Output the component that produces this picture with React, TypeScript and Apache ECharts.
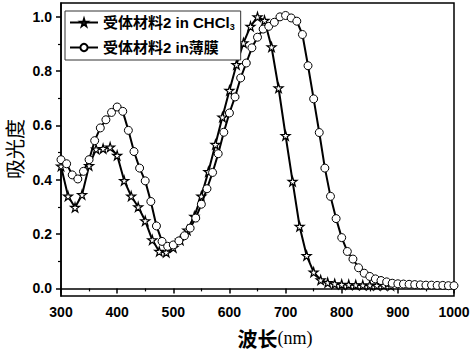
import React, { useEffect, useRef } from "react";
import * as echarts from "echarts";

const starName = "受体材料2 in CHCl3";
const circleName = "受体材料2 in薄膜";

const starWavelengths = [
  300, 312.5, 325, 337.5, 350, 362.5, 375, 387.5, 400, 412.5, 425, 437.5, 450, 462.5, 475, 487.5,
  500, 512.5, 525, 537.5, 550, 562.5, 575, 587.5, 600, 612.5, 625, 637.5, 650, 662.5, 675, 687.5,
  700, 712.5, 725, 737.5, 750, 762.5, 775, 787.5, 800, 812.5, 825, 837.5, 850, 862.5, 875, 887.5,
];
const starValues = [
  0.45, 0.34, 0.298, 0.345, 0.452, 0.513, 0.515, 0.52, 0.49, 0.397, 0.34, 0.3, 0.249, 0.179, 0.136, 0.133,
  0.15, 0.178, 0.215, 0.265, 0.34, 0.43, 0.53, 0.631, 0.729, 0.824, 0.904, 0.965, 1.0, 0.987, 0.889, 0.738,
  0.563, 0.394, 0.228, 0.121, 0.06, 0.031, 0.021, 0.017, 0.015, 0.014, 0.013, 0.012, 0.012, 0.011, 0.011, 0.01,
];

const circleWavelengths = [
  300, 310, 320, 330, 340, 350, 360, 370, 380, 390, 400, 410, 420, 430, 440, 450, 460, 470, 480, 490,
  500, 510, 520, 530, 540, 550, 560, 570, 580, 590, 600, 610, 620, 630, 640, 650, 660, 670, 680, 690,
  700, 710, 720, 730, 740, 750, 760, 770, 780, 790, 800, 810, 820, 830, 840, 850, 860, 870, 880, 890,
  900, 910, 920, 930, 940, 950, 960, 970, 980, 990, 1000,
];
const circleValues = [
  0.474, 0.459, 0.418, 0.403, 0.431, 0.474, 0.544, 0.591, 0.621, 0.648, 0.668, 0.652, 0.582, 0.504, 0.443, 0.396, 0.32, 0.23, 0.173, 0.155,
  0.16, 0.175, 0.194, 0.222, 0.259, 0.31, 0.367, 0.427, 0.496, 0.575, 0.646, 0.705, 0.775, 0.83, 0.886, 0.925, 0.955, 0.965, 0.98, 1.0,
  1.005, 0.996, 0.984, 0.935, 0.82, 0.698, 0.574, 0.443, 0.339, 0.257, 0.187, 0.136, 0.108, 0.076, 0.056, 0.044, 0.035, 0.029, 0.024, 0.019,
  0.017, 0.016, 0.015, 0.014, 0.013, 0.012, 0.012, 0.011, 0.011, 0.01, 0.01,
];

const yMajorTicks = [0, 0.2, 0.4, 0.6, 0.8, 1.0];
const yMinorTicks = [0.1, 0.3, 0.5, 0.7, 0.9];

const starPath =
  "path://M50,0 L61,35 L98,35 L68,57 L79,91 L50,70 L21,91 L32,57 L2,35 L39,35 Z";

const sansFont = "'Liberation Sans', Arial, 'Noto Sans CJK SC', sans-serif";
const cjkFont = "'Noto Sans CJK SC', 'Liberation Sans', sans-serif";

export default function App() {
  const ref = useRef<HTMLDivElement>(null);

  useEffect(() => {
    if (!ref.current) return;
    const chart = echarts.init(ref.current, undefined, { renderer: "svg" });
    const yMin = -0.028;
    const yMax = 1.051;
    chart.setOption({
      animation: false,
      backgroundColor: "#fff",
      grid: {
        left: 61,
        right: 20,
        top: 3,
        bottom: 57,
        show: true,
        borderColor: "#000",
        borderWidth: 1.5,
      },
      legend: {
        left: 65,
        top: 11,
        orient: "vertical",
        itemWidth: 28,
        itemHeight: 9,
        itemGap: 9,
        padding: [4, 6, 5, 4],
        borderColor: "#333",
        borderWidth: 1,
        backgroundColor: "#fff",
        data: [starName, circleName],
        formatter: (name: string) =>
          name === starName ? "{a|受体材料2 in CHCl}{s|3}" : "{a|受体材料2 in薄膜}",
        textStyle: {
          rich: {
            a: { fontSize: 15, fontWeight: "bold", fontFamily: sansFont, color: "#000", lineHeight: 17 },
            s: { fontSize: 9, fontWeight: "bold", fontFamily: sansFont, color: "#000", padding: [8, 0, 0, 0] },
          },
        },
      },
      xAxis: {
        type: "value",
        min: 300,
        max: 1000,
        interval: 100,
        axisLine: { show: true, lineStyle: { color: "#000", width: 1.5 } },
        axisTick: { show: true, inside: false, length: 5, lineStyle: { color: "#000", width: 1.5 } },
        minorTick: { show: true, splitNumber: 2, length: 3, lineStyle: { color: "#000", width: 1.2 } },
        splitLine: { show: false },
        axisLabel: {
          margin: 9,
          color: "#000",
          fontSize: 14,
          fontWeight: "bold",
          fontFamily: sansFont,
          showMaxLabel: true,
          showMinLabel: true,
          formatter: (v: number) => String(v),
        },
      },
      yAxis: [
        {
          type: "value",
          min: yMin,
          max: yMax,
          axisLine: { show: true, lineStyle: { color: "#000", width: 1.5 } },
          axisTick: {
            show: true,
            inside: false,
            length: 5,
            customValues: yMajorTicks,
            lineStyle: { color: "#000", width: 1.5 },
          },
          splitLine: { show: false },
          axisLabel: {
            margin: 9,
            color: "#000",
            fontSize: 14,
            fontWeight: "bold",
            fontFamily: sansFont,
            customValues: yMajorTicks,
            formatter: (v: number) => v.toFixed(1),
          },
        },
        {
          type: "value",
          min: yMin,
          max: yMax,
          position: "left",
          axisLine: { show: false },
          axisTick: {
            show: true,
            inside: false,
            length: 3,
            customValues: yMinorTicks,
            lineStyle: { color: "#000", width: 1.2 },
          },
          splitLine: { show: false },
          axisLabel: { show: false },
        },
      ],
      graphic: [
        {
          type: "text",
          x: 14,
          y: 149,
          rotation: Math.PI / 2,
          style: {
            text: "吸光度",
            fontSize: 20,
            fontFamily: cjkFont,
            fill: "#000",
            align: "center",
            verticalAlign: "middle",
          },
        },
        {
          type: "text",
          x: 275,
          y: 338,
          style: {
            text: "{a|波长}{b|(nm)}",
            align: "center",
            verticalAlign: "middle",
            rich: {
              a: { fontSize: 20, fontFamily: cjkFont, fontWeight: "bold", fill: "#000" },
              b: { fontSize: 18, fontFamily: "'Liberation Serif', 'DejaVu Serif', serif", fill: "#000" },
            },
          },
        },
      ],
      series: [
        {
          name: starName,
          type: "line",
          data: starWavelengths.map((w, i) => [w, starValues[i]]),
          symbol: starPath,
          symbolSize: 9,
          showAllSymbol: true,
          lineStyle: { color: "#000", width: 2 },
          itemStyle: { color: "#fff", borderColor: "#000", borderWidth: 1.2 },
          z: 2,
        },
        {
          name: circleName,
          type: "line",
          data: circleWavelengths.map((w, i) => [w, circleValues[i]]),
          symbol: "circle",
          symbolSize: 8,
          showAllSymbol: true,
          lineStyle: { color: "#000", width: 2 },
          itemStyle: { color: "#fff", borderColor: "#000", borderWidth: 1 },
          z: 3,
        },
      ],
    });
    return () => chart.dispose();
  }, []);

  return (
    <div
      ref={ref}
      style={{ position: "fixed", left: 0, top: 0, width: 474, height: 353, background: "#fff" }}
    />
  );
}
